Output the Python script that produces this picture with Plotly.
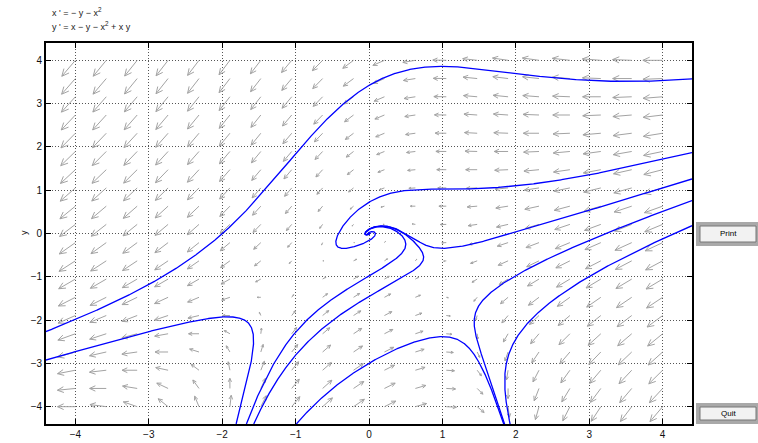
import numpy as np
import plotly.graph_objects as go

# ---------------- data ----------------
# System shown in the chart:  x' = -y - x^2 ,  y' = x - y - x^2 + x y
MONOMIALS = ["x", "y", "x^2", "xy"]
XDOT_COEF = [0.0, -1.0, -1.0, 0.0]
YDOT_COEF = [1.0, -1.0, -1.0, 1.0]

X_RANGE = [-4.4, 4.4]
Y_RANGE = [-4.4, 4.4]
TICK_VALS = [-4, -3, -2, -1, 0, 1, 2, 3, 4]

# direction-field grid (20 x 20 points from -4 to 4)
FIELD_N = 20
FIELD_MIN = -4.0
FIELD_MAX = 4.0

# solution curves: starting points (all run forward in time)
SEED_X = [4.4, 4.4, 4.4, 4.4, 4.4, -1.81, -1.67, -1.57, -0.99]
SEED_Y = [3.57, 1.87, 1.26, 0.76, 0.18, -4.4, -4.4, -4.4, -4.4]

EQ_LINE1 = "x ' = − y − x<sup>2</sup>"
EQ_LINE2 = "y ' = x − y − x<sup>2</sup> + x y"

# ---------------- layout constants ----------------
W, H = 758, 443
ML, MR, MT, MB = 46, 66, 43, 19
PW = W - ML - MR
PH = H - MT - MB
PX_X = PW / (X_RANGE[1] - X_RANGE[0])
PX_Y = PH / (Y_RANGE[1] - Y_RANGE[0])


def field(x, y):
    mon = [x, y, x * x, x * y]
    u = sum(c * m for c, m in zip(XDOT_COEF, mon))
    v = sum(c * m for c, m in zip(YDOT_COEF, mon))
    return u, v


def solve(x0, y0, h=0.006, nmax=40000):
    xs, ys = [x0], [y0]
    x, y = x0, y0
    for _ in range(nmax):
        u, v = field(x, y)
        sp = np.hypot(u, v)
        dt = h / (sp + 0.5)
        k1 = field(x, y)
        k2 = field(x + 0.5 * dt * k1[0], y + 0.5 * dt * k1[1])
        k3 = field(x + 0.5 * dt * k2[0], y + 0.5 * dt * k2[1])
        k4 = field(x + dt * k3[0], y + dt * k3[1])
        x = x + dt / 6 * (k1[0] + 2 * k2[0] + 2 * k3[0] + k4[0])
        y = y + dt / 6 * (k1[1] + 2 * k2[1] + 2 * k3[1] + k4[1])
        xs.append(x)
        ys.append(y)
        if abs(x) > 4.5 or abs(y) > 4.5:
            break
        if np.hypot(x, y) < 0.002:
            break
    return xs, ys


fig = go.Figure()

# ---- direction field arrows ----
gx = np.linspace(FIELD_MIN, FIELD_MAX, FIELD_N)
gy = np.linspace(FIELD_MIN, FIELD_MAX, FIELD_N)
ax, ay = [], []
LMAX, CSAT = 23.5, 280.0
ang = np.deg2rad(25)
for xg in gx:
    for yg in gy:
        u, v = field(xg, yg)
        su, sv = u * PX_X, v * PX_Y
        m = np.hypot(su, sv)
        if m < 1e-9:
            continue
        L = LMAX * m / (m + CSAT)
        dx, dy = su / m, sv / m
        tx, ty = L * dx, L * dy  # tip offset in pixels
        hl = 0.38 * L
        heads = []
        for s in (ang, -ang):
            bx = -dx * np.cos(s) + dy * np.sin(s)
            by = -dy * np.cos(s) - dx * np.sin(s)
            heads.append((tx + hl * bx, ty + hl * by))

        def to_data(p):
            return xg + p[0] / PX_X, yg + p[1] / PX_Y

        p0 = to_data((0, 0)); p1 = to_data((tx, ty))
        h1 = to_data(heads[0]); h2 = to_data(heads[1])
        ax += [p0[0], p1[0], None, h1[0], p1[0], h2[0], None]
        ay += [p0[1], p1[1], None, h1[1], p1[1], h2[1], None]

fig.add_trace(go.Scatter(x=ax, y=ay, mode="lines",
                         line=dict(color="#a3a3a3", width=1),
                         hoverinfo="skip", showlegend=False))

# ---- solution curves ----
for sx, sy in zip(SEED_X, SEED_Y):
    xs, ys = solve(sx, sy)
    fig.add_trace(go.Scatter(x=xs, y=ys, mode="lines",
                             line=dict(color="#0000ff", width=1.3),
                             hoverinfo="skip", showlegend=False))

FAMILY = "Liberation Sans, Arial, Helvetica, sans-serif"
font = dict(family=FAMILY, size=10, color="#111")
axis_common = dict(
    tickvals=TICK_VALS, ticks="inside", ticklen=5, tickwidth=1, tickcolor="#000",
    showline=True, linecolor="#000", linewidth=1.7, mirror="ticks",
    showgrid=True, gridcolor="#555", gridwidth=1, griddash="1px,2px",
    zeroline=False, tickfont=font, fixedrange=True, automargin=False,
)
fig.update_layout(
    width=W, height=H, autosize=False,
    margin=dict(l=ML, r=MR, t=MT, b=MB, pad=0, autoexpand=False),
    paper_bgcolor="white", plot_bgcolor="white",
    xaxis=dict(range=X_RANGE, **axis_common),
    yaxis=dict(range=Y_RANGE, **axis_common),
    font=font,
)


def px2paper(px, py):
    return (px - ML) / PW, (H - MB - py) / PH


annots = []
for txt, py in ((EQ_LINE1, 12), (EQ_LINE2, 26)):
    xp, yp = px2paper(50, py)
    annots.append(dict(text=txt, x=xp, y=yp, xref="paper", yref="paper",
                       xanchor="left", yanchor="middle", showarrow=False,
                       font=dict(family=FAMILY, size=9, color="#222")))
# axis labels
xp, yp = px2paper(369, 440)
annots.append(dict(text="x", x=xp, y=yp, xref="paper", yref="paper", xanchor="center",
                   yanchor="top", showarrow=False, font=dict(family=FAMILY, size=9, color="#111")))
xp, yp = px2paper(24, 233)
annots.append(dict(text="y", x=xp, y=yp, xref="paper", yref="paper", xanchor="center",
                   yanchor="middle", showarrow=False, textangle=-90,
                   font=dict(family=FAMILY, size=9, color="#111")))

shapes = []
for label, y0, y1 in (("Print", 222, 246), ("Quit", 403, 424)):
    a0 = px2paper(696, y1); a1 = px2paper(760, y0)
    shapes.append(dict(type="rect", xref="paper", yref="paper", x0=a0[0], y0=a0[1],
                       x1=a1[0], y1=a1[1], fillcolor="#a9a9a9", line=dict(width=0), layer="above"))
    b0 = px2paper(700, y1 - 4); b1 = px2paper(756, y0 + 4)
    shapes.append(dict(type="rect", xref="paper", yref="paper", x0=b0[0], y0=b0[1],
                       x1=b1[0], y1=b1[1], fillcolor="#f2f2f2", line=dict(color="#777", width=1), layer="above"))
    c = px2paper(728, (y0 + y1) / 2)
    annots.append(dict(text=label, x=c[0], y=c[1], xref="paper", yref="paper",
                       xanchor="center", yanchor="middle", showarrow=False,
                       font=dict(family=FAMILY, size=8, color="#000")))

fig.update_layout(annotations=annots, shapes=shapes)
fig.write_html("out.html")
